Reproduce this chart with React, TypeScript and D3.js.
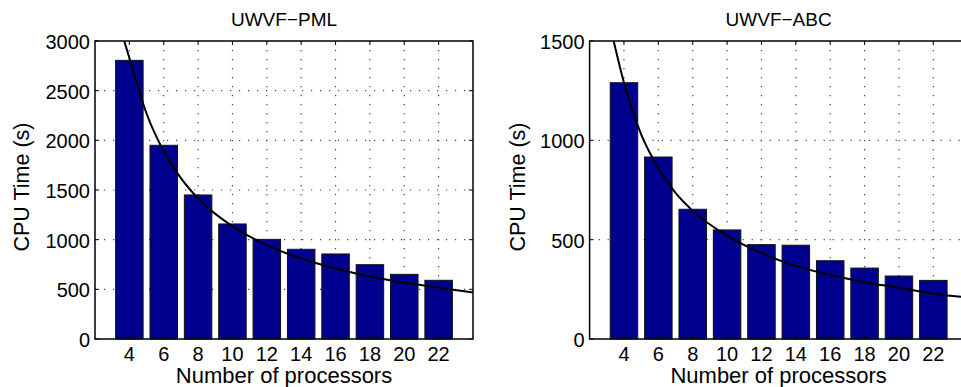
import React from 'react';
import * as d3 from 'd3';

const processors = [4, 6, 8, 10, 12, 14, 16, 18, 20, 22];
const pmlTimes = [2805, 1950, 1450, 1158, 1003, 903, 856, 748, 651, 591];
const abcTimes = [1290, 916, 653, 549, 475, 472, 394, 357, 317, 295];

// fitted curves
const pmlFitX = [3.7, 4, 5, 6, 7, 8, 10, 12, 14, 16, 18, 20, 22, 24];
const pmlFitY = [3000, 2830, 2270, 1890, 1620, 1415, 1135, 945, 810, 710, 630, 568, 516, 470];
const abcFitX = [3.4, 4, 5, 6, 7, 8, 10, 12, 14, 16, 18, 20, 22, 24];
const abcFitY = [1500, 1290, 1030, 860, 735, 645, 520, 432, 368, 322, 286, 258, 228, 210];

const pmlTicks = [0, 500, 1000, 1500, 2000, 2500, 3000];
const abcTicks = [0, 500, 1000, 1500];

const W = 961;
const H = 387;
const TOP = 41;
const BOTTOM = 339;
const BAR_COLOR = '#00008f';
const FONT = 'Liberation Sans, Arial, Helvetica, sans-serif';

type PanelProps = {
  id: string;
  title: string;
  values: number[];
  fitX: number[];
  fitY: number[];
  yMax: number;
  yTicks: number[];
  left: number;
  right: number;
  ylabelX: number;
};

function Panel({ id, title, values, fitX, fitY, yMax, yTicks, left, right, ylabelX }: PanelProps) {
  const x = d3.scaleLinear().domain([2, 24]).range([left, right]);
  const y = d3.scaleLinear().domain([0, yMax]).range([BOTTOM, TOP]);
  const barW = x(1.6) - x(0);
  const tickLen = 4;

  const line = d3.line<number>()
    .x((d, i) => x(fitX[i]))
    .y(d => y(d))
    .curve(d3.curveMonotoneX);

  const cx = (left + right) / 2;

  return (
    <g>
      <defs>
        <clipPath id={`clip-${id}`}>
          <rect x={left} y={TOP} width={right - left} height={BOTTOM - TOP} />
        </clipPath>
      </defs>

      {/* grid */}
      <g stroke="#444" strokeWidth={1.2} strokeDasharray="1.2,7.8">
        {processors.map(p => (
          <line key={`gx${p}`} x1={x(p)} x2={x(p)} y1={TOP} y2={BOTTOM} />
        ))}
        {yTicks.slice(1, -1).map(t => (
          <line key={`gy${t}`} x1={left} x2={right} y1={y(t)} y2={y(t)} />
        ))}
      </g>

      {/* bars */}
      {values.map((v, i) => (
        <rect
          key={i}
          x={x(processors[i]) - barW / 2}
          y={y(v)}
          width={barW}
          height={BOTTOM - y(v)}
          fill={BAR_COLOR}
          stroke="#111"
          strokeWidth={1}
        />
      ))}

      {/* fit curve */}
      <path d={line(fitY) || ''} fill="none" stroke="#000" strokeWidth={2} clipPath={`url(#clip-${id})`} />

      {/* box */}
      <rect x={left} y={TOP} width={right - left} height={BOTTOM - TOP} fill="none" stroke="#000" strokeWidth={1.5} />

      {/* ticks */}
      <g stroke="#000" strokeWidth={1}>
        {processors.map(p => (
          <g key={`tx${p}`}>
            <line x1={x(p)} x2={x(p)} y1={BOTTOM} y2={BOTTOM - tickLen} />
            <line x1={x(p)} x2={x(p)} y1={TOP} y2={TOP + tickLen} />
          </g>
        ))}
        {yTicks.map(t => (
          <g key={`ty${t}`}>
            <line x1={left} x2={left + tickLen} y1={y(t)} y2={y(t)} />
            <line x1={right} x2={right - tickLen} y1={y(t)} y2={y(t)} />
          </g>
        ))}
      </g>

      {/* tick labels */}
      <g fontFamily={FONT} fontSize={20} fill="#000">
        {processors.map(p => (
          <text key={`lx${p}`} x={x(p)} y={361} textAnchor="middle">{p}</text>
        ))}
        {yTicks.map(t => (
          <text key={`ly${t}`} x={left - 5} y={y(t) + 8} textAnchor="end">{t}</text>
        ))}
      </g>

      <text x={cx} y={26} textAnchor="middle" fontFamily={FONT} fontSize={19} fill="#000">{title}</text>
      <text x={cx} y={383} textAnchor="middle" fontFamily={FONT} fontSize={22} fill="#000">Number of processors</text>
      <text
        transform={`translate(${ylabelX}, ${(TOP + BOTTOM) / 2 - 3}) rotate(-90)`}
        textAnchor="middle"
        fontFamily={FONT}
        fontSize={21.5}
        fill="#000"
      >
        CPU Time (s)
      </text>
    </g>
  );
}

export default function App() {
  return (
    <svg
      width={W}
      height={H}
      style={{ position: 'absolute', left: 0, top: 0, background: '#fff', display: 'block' }}
    >
      <rect x={0} y={0} width={W} height={H} fill="#fff" />
      <Panel
        id="pml"
        title="UWVF−PML"
        values={pmlTimes}
        fitX={pmlFitX}
        fitY={pmlFitY}
        yMax={3000}
        yTicks={pmlTicks}
        left={95}
        right={473}
        ylabelX={29}
      />
      <Panel
        id="abc"
        title="UWVF−ABC"
        values={abcTimes}
        fitX={abcFitX}
        fitY={abcFitY}
        yMax={1500}
        yTicks={abcTicks}
        left={589.6}
        right={967.7}
        ylabelX={525}
      />
    </svg>
  );
}
